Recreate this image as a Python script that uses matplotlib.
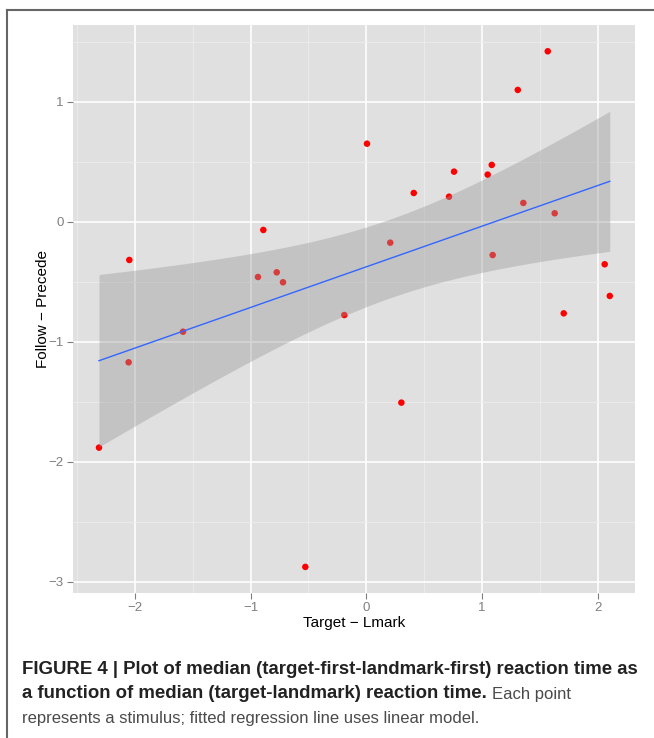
import numpy as np
import matplotlib
matplotlib.use("Agg")
import matplotlib.pyplot as plt
from matplotlib.lines import Line2D

plt.rcParams['font.family'] = ['Liberation Sans', 'DejaVu Sans']

# data
target_lmark = [-2.048, -0.890, -0.936, -0.774, -0.720, -0.190,
                1.568, 1.309, 0.006, 0.758, 1.084, 1.049, 0.410, 0.715,
                1.357, 1.628, 0.207, 1.092, 2.060, 2.104, 1.706,
                -1.584, -2.054, -2.310, -0.527, 0.303]
follow_precede = [-0.319, -0.069, -0.461, -0.422, -0.505, -0.778,
                  1.420, 1.098, 0.650, 0.417, 0.473, 0.392, 0.239, 0.208,
                  0.156, 0.070, -0.175, -0.278, -0.355, -0.619, -0.764,
                  -0.917, -1.172, -1.883, -2.877, -1.508]
x_ticks = [-2, -1, 0, 1, 2]
y_ticks = [-3, -2, -1, 0, 1]
T_CRIT = 2.064  # t(0.975, df=24)

x = np.array(target_lmark)
y = np.array(follow_precede)

# linear fit + 95% confidence band
slope, icpt = np.polyfit(x, y, 1)
n = len(x)
resid = y - (slope * x + icpt)
s = np.sqrt(np.sum(resid ** 2) / (n - 2))
xs = np.linspace(x.min(), x.max(), 100)
fit = slope * xs + icpt
se = s * np.sqrt(1.0 / n + (xs - x.mean()) ** 2 / np.sum((x - x.mean()) ** 2))

W, H = 654, 738
fig = plt.figure(figsize=(W / 100, H / 100), dpi=100)
ax = fig.add_axes([73.3 / W, 1 - 592.7 / H, (635 - 73.3) / W, (592.7 - 25) / H])
ax.set_facecolor('#e0e0e0')

ax.scatter(x, y, s=22, color='#ff0000', edgecolors='none', zorder=3)
ax.fill_between(xs, fit - T_CRIT * se, fit + T_CRIT * se, color='#999999', alpha=0.4,
                linewidth=0, zorder=4)
ax.plot(xs, fit, color='#3366ff', linewidth=1.0, zorder=5)

ax.set_xlim(-2.532, 2.322)
ax.set_ylim(-3.092, 1.639)
ax.set_xticks(x_ticks)
ax.set_xticklabels(['\u22122', '\u22121', '0', '1', '2'])
ax.set_yticks(y_ticks)
ax.set_yticklabels(['\u22123', '\u22122', '\u22121', '0', '1'])
ax.set_xticks(np.arange(-2.5, 2.5, 1.0), minor=True)
ax.set_yticks(np.arange(-2.5, 1.6, 1.0), minor=True)
ax.grid(True, which='major', color='white', linewidth=1.2, zorder=1)
ax.grid(True, which='minor', color='#ececec', linewidth=0.6, zorder=1)
ax.set_axisbelow(True)
for sp in ax.spines.values():
    sp.set_visible(False)
ax.tick_params(which='major', length=4, width=0.8, color='#7f7f7f',
               labelcolor='#7f7f7f', labelsize=9.5, pad=3)
ax.tick_params(which='minor', length=0)

ax.set_xlabel('Target \u2212 Lmark', fontsize=11, labelpad=1)
ax.set_ylabel('Follow \u2212 Precede', fontsize=11, labelpad=-1)

# page frame
fig.add_artist(Line2D([7.3 / W, 1], [1 - 9.5 / H, 1 - 9.5 / H], color='#666666', lw=1.5))
fig.add_artist(Line2D([7.3 / W, 7.3 / W], [0, 1 - 9.5 / H], color='#666666', lw=1.5))

# caption
cap_x = 22 / W
fig.text(cap_x, 1 - 670 / H, 'FIGURE 4 | Plot of median (target-first-landmark-first) reaction time as',
         fontsize=13.4, fontweight='bold', color='#222222', va='center')
t2 = fig.text(cap_x, 1 - 694 / H, 'a function of median (target-landmark) reaction time.',
              fontsize=13.4, fontweight='bold', color='#222222', va='center')
fig.canvas.draw()
bb = t2.get_window_extent()
fig.text(bb.x1 / W + 5 / W, 1 - 694 / H, 'Each point', fontsize=12, color='#4a4a4a', va='center')
fig.text(cap_x, 1 - 718 / H, 'represents a stimulus; fitted regression line uses linear model.',
         fontsize=12, color='#4a4a4a', va='center')

fig.savefig('out.png', dpi=100)
